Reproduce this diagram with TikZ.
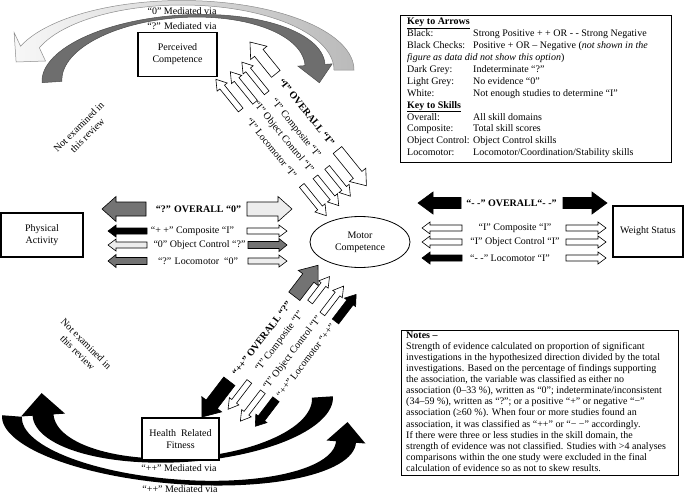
\documentclass[tikz,border=0pt]{standalone}
\usepackage{fontspec}
\setmainfont{Liberation Serif}
\usetikzlibrary{shapes.geometric}
\newcommand{\blkarrow}[7]{%
  \pgfmathsetmacro{\bsgn}{ifthenelse(#3>#2,1,-1)}%
  \pgfmathsetmacro{\bhx}{#3-\bsgn*#7}%
  \filldraw[#1] (#2,{#4-#5}) -- (\bhx,{#4-#5}) -- (\bhx,{#4-#6}) -- (#3,#4) -- (\bhx,{#4+#6}) -- (\bhx,{#4+#5}) -- (#2,{#4+#5}) -- cycle;}
\begin{document}
\begin{tikzpicture}[x=1pt,y=-1pt, font=\fontsize{10}{12}\selectfont,
  wh/.style={fill=white,draw=black,line width=0.6pt},
  lg/.style={fill=black!7,draw=black,line width=0.6pt},
  dg/.style={fill=black!55,draw=black,line width=0.6pt},
  bl/.style={fill=black,draw=black,line width=0.6pt},
  box/.style={draw,line width=1.1pt,fill=white,align=center,inner sep=0pt},
  lbl/.style={inner sep=0pt},
  lblb/.style={inner sep=0pt,font=\fontsize{10}{12}\selectfont\bfseries}]
\useasboundingbox (0,0) rectangle (685,498);

% ---------- curved arrows (top) ----------
\begin{scope}[shift={(182.1,70)}]
\path[draw=black!45, line width=0.5pt, left color=black!3, right color=black!27]
 (151.9,0) -- (171.9,0) -- plot[domain=360:200,samples=60] ({171.9*cos(\x)},{69.5*sin(\x)})
 -- (-168,-37.5) -- (-166,-8) -- (-136.6,-9)
 -- plot[domain=200:360,samples=60] ({151.9*cos(\x)},{65*sin(\x)}) -- cycle;
\end{scope}
\begin{scope}[shift={(183.5,73.5)}, rotate=3.7]
\filldraw[fill=black!57, draw=black!70, line width=0.5pt]
 (-121.8,0) -- (-141.8,0) -- plot[domain=180:360,samples=60] ({141.8*cos(\x)},{58.5*sin(\x)})
 -- (149,0) -- (135,18) -- (114.6,0) -- (121.8,0)
 -- plot[domain=360:180,samples=60] ({121.8*cos(\x)},{56*sin(\x)}) -- cycle;
\end{scope}
% ---------- curved arrows (bottom) ----------
\begin{scope}[shift={(182.75,406)}, rotate=3.7]
\fill[black] (150.5,0) -- plot[domain=0:180,samples=60] ({150.5*cos(\x)},{56*sin(\x)})
 -- (-162,0) -- (-140,-22) -- (-118,0) -- (-129.5,0)
 -- plot[domain=180:0,samples=60] ({129.5*cos(\x)},{52*sin(\x)}) -- cycle;
\end{scope}
\begin{scope}[shift={(179,429)}, rotate=-4.45]
\fill[black] (-157.5,0) -- (-177.5,0) -- plot[domain=180:0,samples=60] ({177.5*cos(\x)},{55*sin(\x)})
 -- (187,0) -- (167.5,-20) -- (148,0) -- (157.5,0)
 -- plot[domain=0:180,samples=60] ({157.5*cos(\x)},{50.5*sin(\x)}) -- cycle;
\end{scope}

\node[lbl] (m1) at (182,11.5) {“0” Mediated via};
\node[lbl] (m2) at (182,26.5) {“?” Mediated via};
\node[lbl] (m3) at (179,468.5) {“++” Mediated via};
\node[lbl] (m4) at (180,489) {“++” Mediated via};

% ---------- boxes ----------
\node[box, minimum width=79pt, minimum height=44pt] (pc) at (177.5,54.5) {Perceived\\Competence};
\node[box, minimum width=82pt, minimum height=44pt] (pa) at (42,235) {Physical\\Activity};
\node[draw, ellipse, line width=0.8pt, fill=white, minimum width=100pt, minimum height=51pt, align=center, inner sep=0pt] (mc) at (360,242) {Motor\\Competence};
\node[box, minimum width=70pt, minimum height=51pt] (ws) at (648,231.5) {Weight Status};
\node[box, minimum width=77pt, minimum height=42pt] (hrf) at (180.5,439) {Health\ \ Related\\Fitness};

% ---------- PA <-> MC ----------
\blkarrow{dg}{146}{102}{209}{7}{12.5}{14}
\blkarrow{lg}{247}{292}{209}{7}{12.5}{14}
\blkarrow{bl}{147}{108}{231}{3}{6}{8}
\blkarrow{wh}{247}{287}{231}{3}{6}{8}
\blkarrow{lg}{147}{108}{245}{3}{6}{8}
\blkarrow{dg}{248}{287}{245}{3.5}{6.5}{8}
\blkarrow{dg}{147}{108}{261}{3.5}{6.5}{8}
\blkarrow{lg}{248}{287}{261}{3}{6}{8}
\node[lblb] (pa1) at (198.5,209) {“?” OVERALL “0”};
\node[lbl] (pa2) at (192.5,231) {“+ +” Composite “I”};
\node[lbl] (pa3) at (199.5,245) {“0” Object Control “?”};
\node[lbl] (pa4) at (198,261) {“?” Locomotor\ \ “0”};

% ---------- MC <-> WS ----------
\blkarrow{bl}{461}{418}{203}{5.5}{11}{15}
\blkarrow{bl}{563}{607}{203}{5.5}{11}{15}
\blkarrow{wh}{462}{422}{228}{3}{6}{8}
\blkarrow{wh}{566}{606}{228}{3}{6}{8}
\blkarrow{wh}{462}{422}{242}{3}{6}{8}
\blkarrow{wh}{566}{606}{242}{3}{6}{8}
\blkarrow{bl}{462}{422}{258}{3}{6}{8}
\blkarrow{wh}{566}{606}{258}{3}{6}{8}
\node[lblb] (ws1) at (511.5,203) {“- -” OVERALL“- -”};
\node[lbl] (ws2) at (515,228) {“I” Composite “I”};
\node[lbl] (ws3) at (515,242) {“I” Object Control “I”};
\node[lbl] (ws4) at (510,258) {“- -” Locomotor “I”};

% ---------- PC <-> MC ----------
\begin{scope}[shift={(250,42)}, rotate=-51]
\blkarrow{wh}{41}{0}{0}{5.5}{10.5}{14}
\blkarrow{wh}{139}{185}{0}{5.5}{10.5}{14}
\blkarrow{wh}{50}{10.5}{19}{3}{6.5}{10}
\blkarrow{wh}{146}{183}{19}{3}{6.5}{10}
\blkarrow{wh}{50}{10.7}{34}{3}{6.5}{10}
\blkarrow{wh}{146}{183}{34}{3}{6.5}{10}
\blkarrow{wh}{47}{7.5}{50}{3}{6.5}{10}
\blkarrow{wh}{144}{183}{50}{3}{6.5}{10}
\node[lblb, rotate=-51] (pc1) at (90,0) {“I” OVERALL “I”};
\node[lbl, rotate=-51] (pc2) at (96,19) {“I” Composite “I”};
\node[lbl, rotate=-51] (pc3) at (95,34) {“I” Object Control “I”};
\node[lbl, rotate=-51] (pc4) at (96,50) {“I” Locomotor “I”};
\end{scope}

% ---------- HRF <-> MC ----------
\begin{scope}[shift={(202,417)}, rotate=52.6]
\blkarrow{bl}{45}{0}{0}{7}{12.5}{16}
\blkarrow{dg}{152}{191}{0}{7}{12.5}{16}
\blkarrow{wh}{57}{22}{16}{3}{6}{10}
\blkarrow{wh}{157}{189}{16}{3}{6}{10}
\blkarrow{wh}{57}{20}{33}{3}{6}{10}
\blkarrow{wh}{155}{190}{33}{3}{6}{10}
\blkarrow{bl}{59}{25}{48}{4}{7}{10}
\blkarrow{bl}{157}{191}{48}{4}{7}{10}
\node[lblb, rotate=52.6] (hr1) at (98.5,0) {“++” OVERALL “?”};
\node[lbl, rotate=52.6] (hr2) at (107,16) {“I” Composite “I”};
\node[lbl, rotate=52.6] (hr3) at (106,33) {“I” Object Control “I”};
\node[lbl, rotate=52.6] (hr4) at (108,48) {“++” Locomotor “++”};
\end{scope}

% ---------- not examined ----------
\node[rotate=45, align=center, inner sep=0pt] (ne1) at (83,131) {Not examined in\\this review};
\node[rotate=-45, align=center, inner sep=0pt] (ne2) at (82,348) {Not examined in\\this review};

% ---------- key ----------
\draw[line width=0.8pt] (400,15) rectangle (671,162);
\node[anchor=north west, inner sep=0pt, align=left, font=\fontsize{10}{11.9}\selectfont] (keytext) at (407,18) {%
\textbf{\underline{Key to Arrows}}\\
\makebox[66pt][l]{Black:}Strong Positive + + OR - - Strong Negative\\
\makebox[66pt][l]{Black Checks:}Positive + OR – Negative (\textit{not shown in the}\\
\textit{figure as data did not show this option})\\
\makebox[66pt][l]{Dark Grey:}Indeterminate “?”\\
\makebox[66pt][l]{Light Grey:}No evidence “0”\\
\makebox[66pt][l]{White:}Not enough studies to determine “I”\\
\textbf{\underline{Key to Skills}}\\
\makebox[66pt][l]{Overall:}All skill domains\\
\makebox[66pt][l]{Composite:}Total skill scores\\
\makebox[66pt][l]{Object Control:}Object Control skills\\
\makebox[66pt][l]{Locomotor:}Locomotor/Coordination/Stability skills};

% ---------- notes ----------
\draw[line width=0.8pt] (401,330) rectangle (678,475);
\node[anchor=north west, inner sep=0pt, align=left, font=\fontsize{10}{11.1}\selectfont] (notestext) at (406,331.5) {%
\textbf{Notes –}\\
Strength of evidence calculated on proportion of significant\\
investigations in the hypothesized direction divided by the total\\
investigations. Based on the percentage of findings supporting\\
the association, the variable was classified as either no\\
association (0–33 \%), written as “0”; indeterminate/inconsistent\\
(34–59 \%), written as “?”; or a positive “+” or negative “−”\\
association (≥60 \%). When four or more studies found an\\
association, it was classified as “++” or “− −” accordingly.\\
If there were three or less studies in the skill domain, the\\
strength of evidence was not classified. Studies with >4 analyses\\
comparisons within the one study were excluded in the final\\
calculation of evidence so as not to skew results.};
\end{tikzpicture}
\end{document}
